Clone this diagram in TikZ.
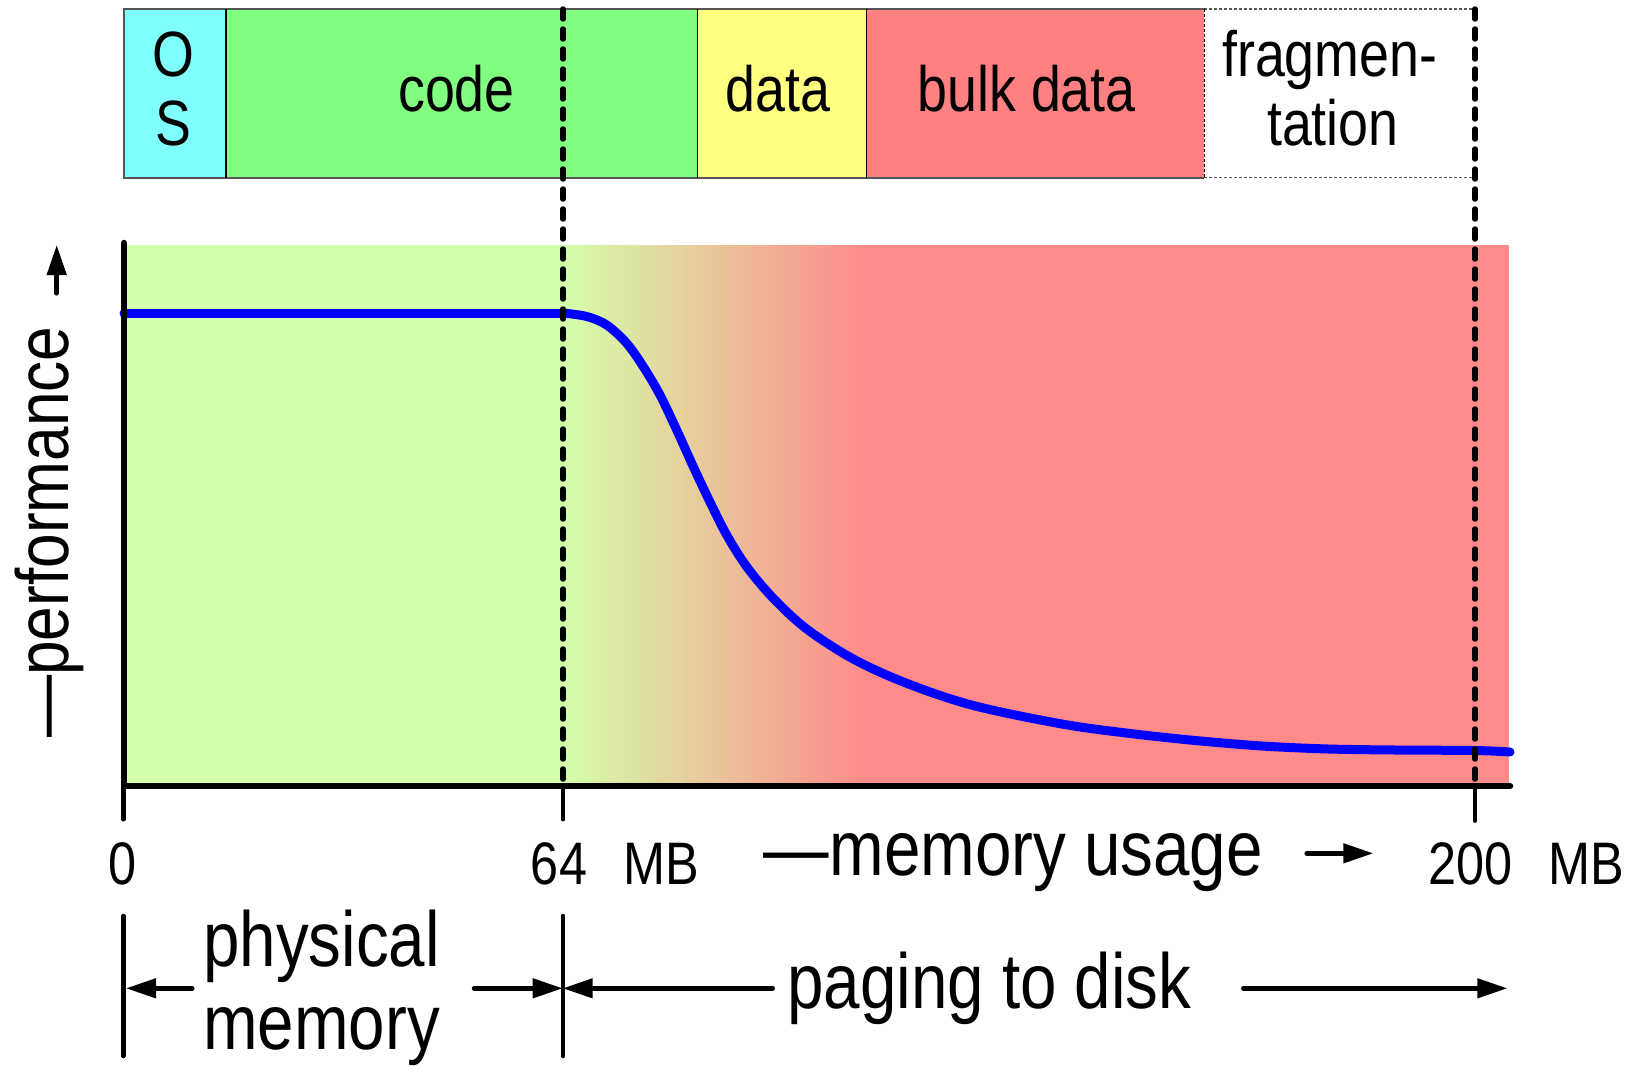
\documentclass[tikz,border=0pt]{standalone}
\usepackage{fontspec}
\setmainfont[FakeStretch=0.84]{Liberation Sans}
\usetikzlibrary{arrows.meta}
\definecolor{oscol}{HTML}{80FFFF}
\definecolor{codecol}{HTML}{80FF80}
\definecolor{datacol}{HTML}{FFFF80}
\definecolor{bulkcol}{HTML}{FF8080}
\definecolor{goodbg}{HTML}{D4FFAA}
\definecolor{badbg}{HTML}{FF8A8A}
\definecolor{curvecol}{HTML}{0000FF}
\definecolor{edgegray}{HTML}{555555}
\begin{document}
\begin{tikzpicture}[x=1pt,y=-1pt,
  divider/.style={draw=black, line width=1.5pt},
  outeredge/.style={draw=edgegray, line width=2pt},
  fragedge/.style={draw=edgegray, line width=1.5pt, dash pattern=on 3pt off 2pt},
  barlbl/.style={inner sep=0pt, anchor=base, font=\fontsize{64}{68}\selectfont},
  ticklbl/.style={inner sep=0pt, anchor=base, font=\fontsize{60}{64}\selectfont},
  biglbl/.style={inner sep=0pt, anchor=base west, font=\fontsize{78}{85}\selectfont},
  axisline/.style={line width=6.5pt, line cap=round, line join=round},
  guide/.style={line width=5.5pt, dash pattern=on 10pt off 10pt, line cap=round},
  tickline/.style={line width=4.5pt, line cap=round},
  arr/.style={line width=4.5pt, line cap=round, -{Triangle[length=30pt,width=19pt]}},
  perfcurve/.style={line width=9pt, draw=curvecol, line cap=round, line join=round}
]
\useasboundingbox (0,0) rectangle (1632,1065);

% ---------- memory layout bar ----------
\fill[oscol]   (124,9) rectangle (226,177.7);
\fill[codecol] (226,9) rectangle (697.4,177.7);
\fill[datacol] (697.4,9) rectangle (866.6,177.7);
\fill[bulkcol] (866.6,9) rectangle (1204.3,177.7);
\draw[outeredge] (1204.3,9) -- (124,9) -- (124,177.7) -- (1204.3,177.7);
\draw[divider] (226,9) -- (226,177.7);
\draw[divider] (697.4,9) -- (697.4,177.7);
\draw[divider] (866.6,9) -- (866.6,177.7);
\draw[fragedge] (1204.3,9) -- (1474,9);
\draw[fragedge] (1204.3,177.7) -- (1474,177.7);
\draw[draw=black, line width=1.2pt, dash pattern=on 3pt off 2pt] (1204.3,9) -- (1204.3,177.7);

\node[barlbl] (osA) at (173,77) {O};
\node[barlbl] (osB) at (173,145) {S};
\node[barlbl] (code) at (456.5,111) {code};
\node[barlbl] (data) at (777.7,111) {data};
\node[barlbl] (bulk) at (1026.7,111) {bulk data};
\node[barlbl] (fragA) at (1329.8,76.7) {fragmen-};
\node[barlbl] (fragB) at (1332.8,145) {tation};

% ---------- plot background ----------
\fill[goodbg] (124,245) rectangle (563.5,786);
\shade[left color=goodbg, right color=badbg] (563,245) rectangle (867,786);
\fill[badbg] (866.6,245) rectangle (1509,786);

% ---------- performance curve ----------
\draw[perfcurve] (124,313) -- (563,313);
\draw[perfcurve] plot[smooth, tension=0.55] coordinates {
  (563,313) (586.7,316.5) (606.7,325) (626.7,343.3) (643.3,366.7)
  (660,395) (676.7,430) (693.3,466.7) (710,502) (726.7,535)
  (746.7,566.7) (773.3,598.3) (806.7,629) (853.3,659) (906.7,683.3)
  (973.3,705.5) (1062,724) (1128.7,733.3) (1195.3,740.5) (1262,746)
  (1328.7,749) (1395.3,750) (1475,750.5) (1510,752)};

% ---------- axes ----------
\draw[axisline] (124,243) -- (124,786) -- (1510,786);

% ---------- guides ----------
\coordinate (g64top) at (563,9);
\coordinate (g64bot) at (563,786);
\coordinate (g200top) at (1475,9);
\coordinate (g200bot) at (1475,786);
\draw[guide] (g64top) -- (g64bot);
\draw[guide] (g200top) -- (g200bot);

% ticks
\draw[tickline] (123.3,786) -- (123.3,819.3);
\draw[tickline] (563,786) -- (563,819.3);
\draw[tickline] (1475,786) -- (1475,820.7);

% axis labels
\node[ticklbl] (t0) at (123,884) {0};
\node[ticklbl] (t64) at (559,884) {64};
\node[ticklbl] (mb1) at (661,884) {MB};
\node[ticklbl] (t200) at (1470.3,884) {200};
\node[ticklbl] (mb2) at (1586.3,884) {MB};
\node[biglbl] (xlab) at (763.7,875) {—memory usage};
\coordinate (xarrS) at (1306.7,853.3);
\coordinate (xarrE) at (1373.3,853.3);
\draw[arr] (xarrS) -- (xarrE);

\node[biglbl, rotate=90, font=\fontsize{74}{80}\selectfont] (ylab) at (68.3,738) {—performance};
\coordinate (yarrS) at (56.7,293.3);
\coordinate (yarrE) at (56.7,245);
\draw[arr] (yarrS) -- (yarrE);

% ---------- region arrows ----------
\draw[tickline] (123.3,916) -- (123.3,1056);
\draw[tickline] (563,916) -- (563,1056);
\node[biglbl] (phys) at (203,966) {physical};
\node[biglbl] (physB) at (203,1049) {memory};
\node[biglbl] (page) at (787,1008) {paging to disk};

\coordinate (pmL) at (192.3,988.3);
\coordinate (pmLtip) at (126,988.3);
\coordinate (pmR) at (474,988.3);
\coordinate (split) at (562.7,988.3);
\coordinate (pgL) at (772.7,988.3);
\coordinate (pgR) at (1243.3,988.3);
\coordinate (pgRtip) at (1507.3,988.3);
\draw[arr] (pmL) -- (pmLtip);
\draw[arr] (pmR) -- (split);
\draw[arr] (pgL) -- (split);
\draw[arr] (pgR) -- (pgRtip);
\end{tikzpicture}
\end{document}
